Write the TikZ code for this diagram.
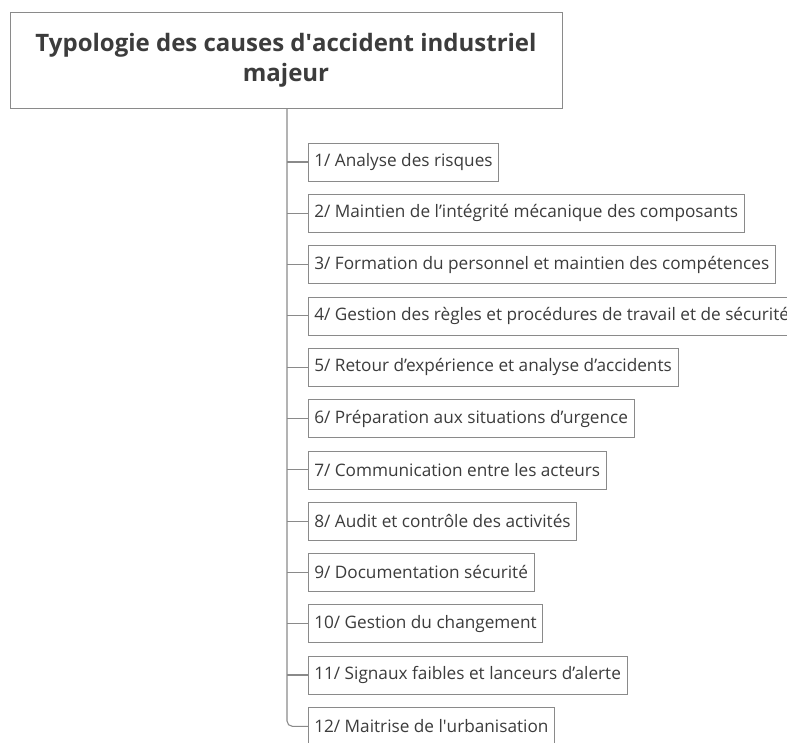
\documentclass[tikz,border=0pt]{standalone}
\usepackage{fontspec}
\setmainfont{Open Sans}
\usepackage{tikz}
\usepackage{xcolor}

\definecolor{linegray}{HTML}{8A8A8A}
\definecolor{textgray}{HTML}{3C3C3C}

\tikzset{
  rootbox/.style={draw=linegray, fill=white, text=textgray, font=\fontsize{18}{22.5}\selectfont\bfseries,
    minimum width=414pt, minimum height=72pt, align=center},
  causebox/.style={draw=linegray, fill=white, text=textgray, font=\fontsize{12.9}{15}\selectfont,
    anchor=west, minimum height=28.5pt, inner xsep=4.5pt},
  branch/.style={draw=linegray, line width=0.8pt}
}

\begin{document}
\begin{tikzpicture}[x=0.75pt,y=-0.75pt]
  \useasboundingbox (0,0) rectangle (787,742);
  \clip (0,0) rectangle (787,742);

  \node[rootbox] (root) at (286,60)
    {Typologie des causes d\textquotesingle accident industriel\\majeur};

  \foreach \i/\txt in {
      1/{1/ Analyse des risques},
      2/{2/ Maintien de l’intégrité mécanique des composants},
      3/{3/ Formation du personnel et maintien des compétences},
      4/{4/ Gestion des règles et procédures de travail et de sécurité},
      5/{5/ Retour d’expérience et analyse d’accidents},
      6/{6/ Préparation aux situations d’urgence},
      7/{7/ Communication entre les acteurs},
      8/{8/ Audit et contrôle des activités},
      9/{9/ Documentation sécurité},
      10/{10/ Gestion du changement},
      11/{11/ Signaux faibles et lanceurs d’alerte},
      12/{12/ Maitrise de l\textquotesingle urbanisation}}{
    \node[causebox] (c\i) at (308,{162+(\i-1)*51.3}) {\txt};
  }

  % trunk down to the last cause, then one branch per cause
  \draw[branch, rounded corners=4pt] (root.south -| 287,0) |- (c12.west);
  \foreach \i in {1,...,11}{
    \draw[branch] (c\i.west -| 287,0) -- (c\i.west);
  }

\end{tikzpicture}
\end{document}
